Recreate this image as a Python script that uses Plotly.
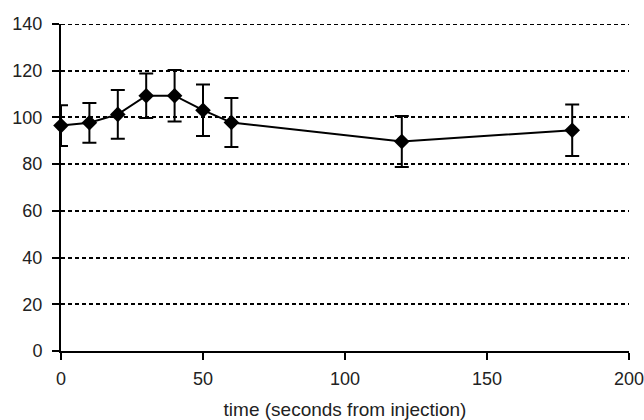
import plotly.graph_objects as go

time_s = [0, 10, 20, 30, 40, 50, 60, 120, 180]
values = [96.5, 97.7, 101.3, 109.3, 109.3, 103.1, 97.8, 89.7, 94.5]
errors = [8.7, 8.5, 10.4, 9.5, 11.0, 11.0, 10.5, 10.9, 11.0]
y_ticks = [0, 20, 40, 60, 80, 100, 120, 140]
x_ticks = [0, 50, 100, 150, 200]

fig = go.Figure()
fig.add_trace(go.Scatter(
    x=time_s, y=values, mode="lines+markers",
    line=dict(color="black", width=2),
    marker=dict(symbol="diamond", size=12, color="black"),
    error_y=dict(type="data", array=errors, visible=True, color="black",
                 thickness=2, width=7),
    showlegend=False, cliponaxis=False,
))

# top gridline (plotly omits gridlines on the plot edge)
fig.add_shape(type="line", xref="paper", yref="y", x0=0, x1=1,
              y0=y_ticks[-1], y1=y_ticks[-1],
              line=dict(color="black", width=2, dash="4px,3px"), layer="below")

fig.update_layout(
    width=644, height=420,
    margin=dict(l=61, r=15, t=24, b=69),
    paper_bgcolor="white", plot_bgcolor="white",
    font=dict(family="Arial, Liberation Sans, sans-serif", size=18, color="#222"),
)
fig.update_xaxes(
    range=[0, 200], tickvals=x_ticks, showgrid=False, zeroline=False,
    showline=True, linecolor="black", linewidth=2, automargin=False,
    ticks="outside", ticklen=7, tickwidth=2, tickcolor="black",
    ticklabelstandoff=3, ticklabeloverflow="allow",
    title=dict(text="time (seconds from injection)", standoff=16,
               font=dict(size=19, color="#222")),
)
fig.update_yaxes(
    range=[0, 140], tickvals=y_ticks, zeroline=False, automargin=False,
    showgrid=True, gridcolor="black", gridwidth=2, griddash="4px,3px",
    showline=True, linecolor="black", linewidth=2,
    ticks="outside", ticklen=7, tickwidth=2, tickcolor="black",
    ticklabelstandoff=6, ticklabeloverflow="allow",
)

fig.write_html("out.html")
